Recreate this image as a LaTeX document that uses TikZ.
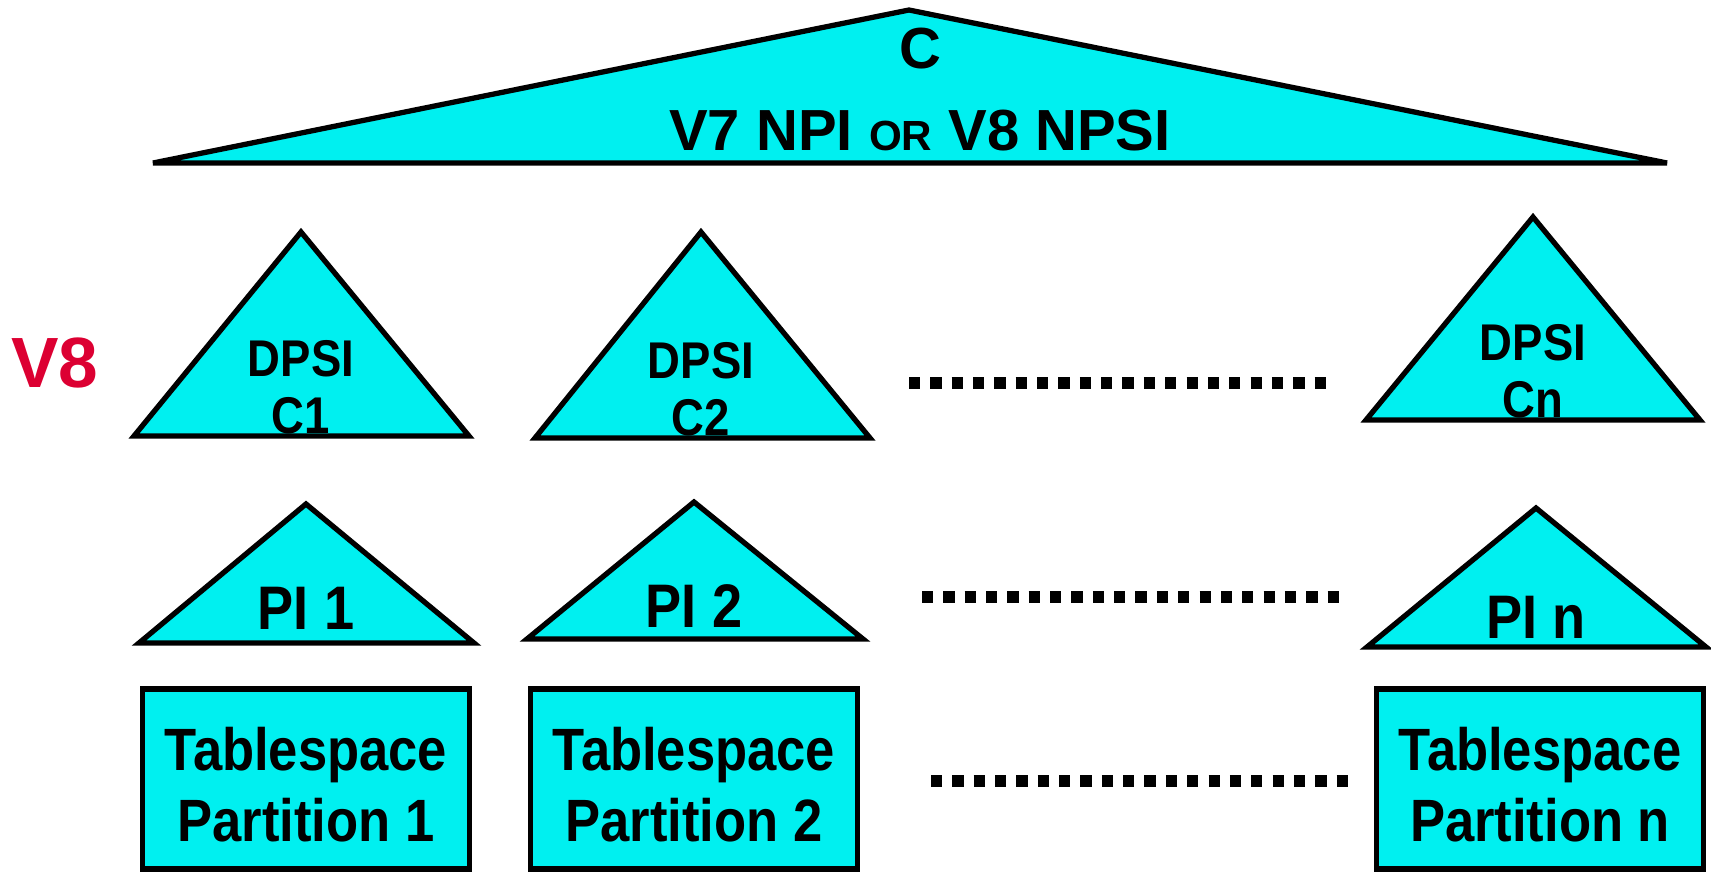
\documentclass[tikz,border=0pt]{standalone}
\usepackage{fontspec}
\setmainfont{Liberation Sans}
\newfontfamily\narrowsans{Liberation Sans}[FakeStretch=0.88]
\definecolor{idxcyan}{RGB}{0,240,240}
\definecolor{vred}{RGB}{220,0,50}

\begin{document}
\begin{tikzpicture}[x=0.02cm, y=-0.02cm,
    idx/.style={fill=idxcyan, draw=black, line width=3pt, line join=miter},
    dotrow/.style={line width=6.3pt, dash pattern=on 6.4pt off 5.75pt},
    dpsitext/.style={font=\narrowsans\bfseries\fontsize{29.4}{32.4}\selectfont, align=center, inner sep=0pt},
    pitext/.style={font=\narrowsans\bfseries\fontsize{35}{35}\selectfont, inner sep=0pt},
    partbox/.style={idx, minimum width=6.54cm, minimum height=3.6cm},
    parttext/.style={font=\narrowsans\bfseries\fontsize{34}{40.5}\selectfont, align=center, inner sep=0pt}]
    \useasboundingbox (0,0) rectangle (1711,872);

    % Non-partitioned index C over the whole table.
    \filldraw[idx] (153,163) -- (909,10) -- (1667,163) -- cycle;
    \node[font=\bfseries\fontsize{33}{33}\selectfont] (cidx) at (920,49) {C};
    \node[font=\bfseries\fontsize{33}{33}\selectfont] (npsi) at (920,131)
      {V7 NPI {\fontsize{24}{24}\selectfont OR} V8 NPSI};

    % Version label.
    \node[text=vred, font=\bfseries\fontsize{40.5}{40.5}\selectfont] (v8) at (55,363) {V8};

    % Data-partitioned secondary indexes.
    \foreach \ax/\ay/\lx/\rx/\by/\lab in {301/232/134/469/436/1, 701/232/535/870/438/2, 1533/217/1366/1700/420/n} {
      \filldraw[idx] (\lx,\by) -- (\ax,\ay) -- (\rx,\by) -- cycle;
      \node[dpsitext] (dpsi\lab) at (\ax,\by-49) {DPSI\\C\lab};
    }

    % Partitioning indexes.
    \foreach \ax/\ay/\lx/\rx/\by/\ty/\lab in {306/504/139/474/643/608/1, 694/502/527/863/639/606/2, 1536/508/1367/1706/647/617/n} {
      \filldraw[idx] (\lx,\by) -- (\ax,\ay) -- (\rx,\by) -- cycle;
      \node[pitext] (pi\lab) at (\ax,\ty) {PI \lab};
    }

    % Tablespace partitions.
    \foreach \cx/\lab in {306/1, 694/2, 1540/n} {
      \node[partbox] (part\lab) at (\cx,779) {};
      \node[parttext] (ptxt\lab) at (\cx,785) {Tablespace\\Partition \lab};
    }

    % Rows of dots between the second and the last column.
    \coordinate (r1a) at (909,383);  \coordinate (r1b) at (1326,383);
    \coordinate (r2a) at (922,597);  \coordinate (r2b) at (1339,597);
    \coordinate (r3a) at (931,781);  \coordinate (r3b) at (1349,781);
    \draw[dotrow] (r1a) -- (r1b);
    \draw[dotrow] (r2a) -- (r2b);
    \draw[dotrow] (r3a) -- (r3b);
  \end{tikzpicture}
\end{document}
